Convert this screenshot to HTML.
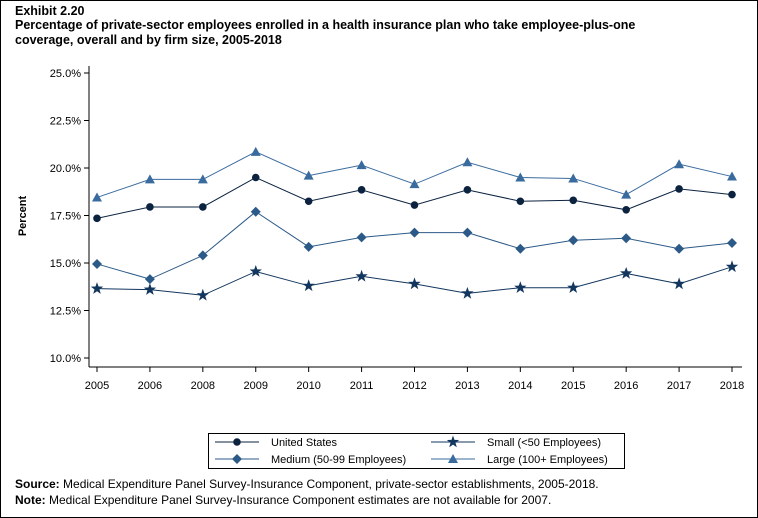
<!DOCTYPE html>
<html><head><meta charset="utf-8"><style>
body{margin:0;background:#fff;font-family:"Liberation Sans",sans-serif;}
#wrap{position:relative;width:756px;height:516px;border:1px solid #000;overflow:hidden;}
.t{position:absolute;left:14px;font-weight:bold;font-size:12.5px;color:#000;}
.n{position:absolute;left:14px;font-size:12px;}
</style></head><body>
<div id="wrap">
<div class="t" style="top:3px">Exhibit 2.20</div>
<div class="t" style="top:17px;line-height:15px">Percentage of private-sector employees enrolled in a health insurance plan who take employee-plus-one<br>coverage, overall and by firm size, 2005-2018</div>
<svg id="c" width="756" height="516" style="position:absolute;left:0;top:0"></svg>
<div class="n" style="top:476px"><b>Source:</b> Medical Expenditure Panel Survey-Insurance Component, private-sector establishments, 2005-2018.</div>
<div class="n" style="top:492px"><b>Note:</b> Medical Expenditure Panel Survey-Insurance Component estimates are not available for 2007.</div>
</div>
<script>
const years=["2005","2006","2008","2009","2010","2011","2012","2013","2014","2015","2016","2017","2018"];
const usVals=[17.35,17.95,17.95,19.5,18.25,18.85,18.05,18.85,18.25,18.3,17.8,18.9,18.6];
const smallVals=[13.65,13.6,13.3,14.55,13.8,14.3,13.9,13.4,13.7,13.7,14.45,13.9,14.8];
const mediumVals=[14.95,14.15,15.4,17.7,15.85,16.35,16.6,16.6,15.75,16.2,16.3,15.75,16.05];
const largeVals=[18.45,19.4,19.4,20.85,19.6,20.15,19.15,20.3,19.5,19.45,18.6,20.2,19.55];
const yTicks=[10,12.5,15,17.5,20,22.5,25];
const svg=document.getElementById('c');const NS="http://www.w3.org/2000/svg";
const X=i=>96+i*(731-96)/(years.length-1);
const Y=v=>357-(v-10)*19;
function el(tag,attrs,name,parent){const e=document.createElementNS(NS,tag);for(const k in attrs)e.setAttribute(k,attrs[k]);


(parent||svg).appendChild(e);return e;}
el('line',{x1:88,y1:65,x2:88,y2:366,stroke:'#000'},'y-axis-line');
el('line',{x1:88,y1:366,x2:741,y2:366,stroke:'#000'},'x-axis-line');
yTicks.forEach(v=>{el('line',{x1:83,y1:Y(v),x2:88,y2:Y(v),stroke:'#000'},'y-tick');
const t=el('text',{x:80,y:Y(v)+4,'text-anchor':'end','font-size':11,fill:'#000'},'y-tick-label');t.textContent=v.toFixed(1)+'%';});
years.forEach((y,i)=>{el('line',{x1:X(i),y1:366,x2:X(i),y2:371,stroke:'#000'},'x-tick');
const t=el('text',{x:X(i),y:388,'text-anchor':'middle','font-size':11,fill:'#000'},'x-tick-label');t.textContent=y;});
const yt=el('text',{x:0,y:0,transform:'translate(25,215) rotate(-90)','text-anchor':'middle','font-size':11,'font-weight':'bold'},'y-axis-title');yt.textContent='Percent';
function marker(type,cx,cy,col,g,name){
if(type==='circle')return el('circle',{cx,cy,r:3.8,fill:col},name,g);
if(type==='diamond')return el('polygon',{points:`${cx},${cy-5} ${cx+5},${cy} ${cx},${cy+5} ${cx-5},${cy}`,fill:col},name,g);
if(type==='tri')return el('polygon',{points:`${cx},${cy-5} ${cx+5},${cy+4} ${cx-5},${cy+4}`,fill:col},name,g);
let p=[];for(let k=0;k<10;k++){const r=k%2?2.6:6.5,a=-Math.PI/2+k*Math.PI/5;p.push((cx+r*Math.cos(a)).toFixed(1)+','+(cy+r*Math.sin(a)).toFixed(1));}
return el('polygon',{points:p.join(' '),fill:col},name,g);}
const series=[{vals:largeVals,col:'#3a6b9e',m:'tri',n:'large'},{vals:usVals,col:'#0c2340',m:'circle',n:'united-states'},{vals:mediumVals,col:'#2c5a88',m:'diamond',n:'medium'},{vals:smallVals,col:'#12365e',m:'star',n:'small'}];
series.forEach(s=>{const g=el('g',{},'series-'+s.n);
el('polyline',{points:s.vals.map((v,i)=>X(i)+','+Y(v)).join(' '),fill:'none',stroke:s.col,'stroke-width':1},s.n+'-line',g);
s.vals.forEach((v,i)=>marker(s.m,X(i),Y(v),s.col,g,s.n+'-point'));});
el('rect',{x:207.5,y:432.5,width:416,height:35,fill:'none',stroke:'#000'},'legend-box');
const leg=[[214,441,'#0c2340','circle','United States'],[430,441,'#12365e','star','Small (<50 Employees)'],[214,458,'#2c5a88','diamond','Medium (50-99 Employees)'],[430,458,'#3a6b9e','tri','Large (100+ Employees)']];
leg.forEach(l=>{const g=el('g',{},'legend-entry');el('line',{x1:l[0],y1:l[1],x2:l[0]+44,y2:l[1],stroke:l[2]},'legend-line',g);
marker(l[3],l[0]+22,l[1],l[2],g,'legend-marker');const t=el('text',{x:l[0]+56,y:l[1]+4,'font-size':11},'legend-label',g);t.textContent=l[4];});
</script>
</body></html>
